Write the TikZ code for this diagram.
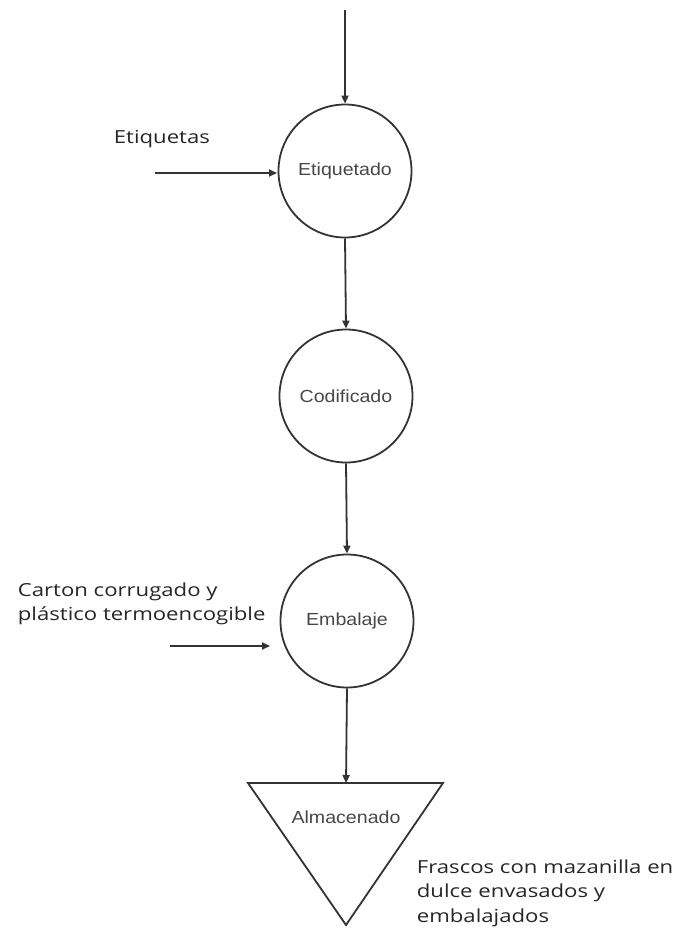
\documentclass[tikz,border=0pt]{standalone}
\usepackage{fontspec}
\setmainfont{Liberation Sans}[FakeStretch=1.12]
\newfontfamily\labelfont{Open Sans}[FakeStretch=1.23]
\usetikzlibrary{arrows.meta,shapes.geometric}
\begin{document}
\begin{tikzpicture}[x=1pt,y=-1pt,
  line width=1.8pt,
  proc/.style={circle,draw=black!80,minimum size=133pt,inner sep=0pt,font=\fontsize{17.5}{20}\selectfont,text=black!72},
  store/.style={draw=black!80,fill=none},
  flow/.style={draw=black!80,-{Triangle[length=8pt,width=7pt]}},
  lbl/.style={font=\labelfont\fontsize{18}{24.5}\selectfont,text=black!85,align=left,inner sep=0pt}]
\useasboundingbox (0,0) rectangle (677,930);
\coordinate (top) at (345,10);
\node[proc] (c1) at (345,171) {Etiquetado};
\node[proc] (c2) at (346,396) {Codificado};
\node[proc] (c3) at (347,621) {Embalaje};
\coordinate (tl) at (248,783);
\coordinate (tr) at (443,783);
\coordinate (tb) at (346,925);
\coordinate (ttop) at (346,783);
\draw[store,line join=miter] (tl) -- (tr) -- (tb) -- cycle;
\node[font=\fontsize{17.5}{20}\selectfont,text=black!72] (alm) at (346,817) {Almacenado};
\draw[flow] (top) -- (c1.north);
\draw[flow] (c1.south) -- (c2.north);
\draw[flow] (c2.south) -- (c3.north);
\draw[flow] (c3.south) -- (ttop);
\coordinate (e1) at (155,173);
\coordinate (e2) at (277,173);
\draw[flow] (e1) -- (e2);
\node[lbl,anchor=base west] (etq) at (113,143) {Etiquetas};
\coordinate (p1) at (170,646);
\coordinate (p2) at (270,646);
\draw[flow] (p1) -- (p2);
\node[lbl,anchor=west] (cart) at (17,604) {Carton corrugado y\\plástico termoencogible};
\node[lbl,anchor=west] (fr) at (416,893) {Frascos con mazanilla en\\dulce envasados y\\embalajados};
\end{tikzpicture}
\end{document}
